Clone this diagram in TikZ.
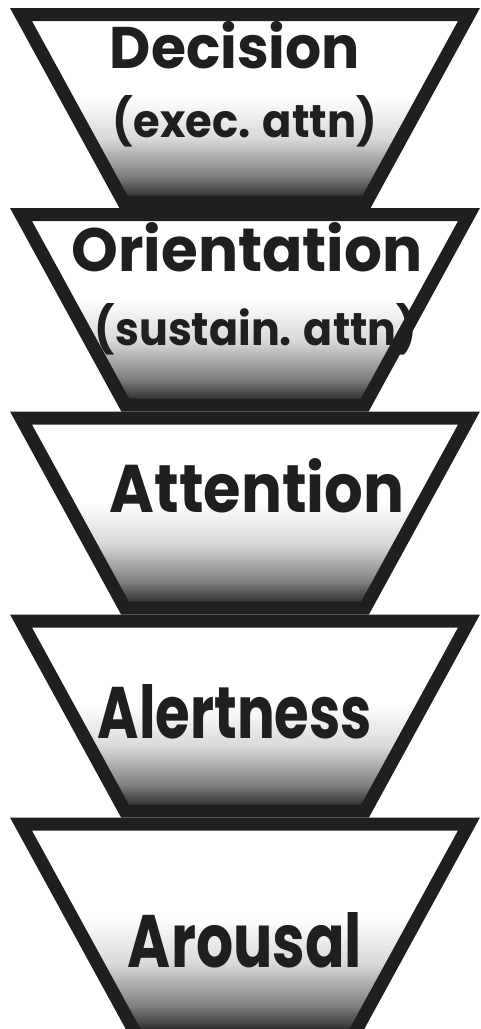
\documentclass[tikz,border=0pt]{standalone}
\usepackage{fontspec}
\setmainfont{Poppins}
\definecolor{ink}{HTML}{1F1F1F}
\pgfdeclareverticalshading{trapshade}{100bp}{color(0bp)=(black!85); color(25bp)=(black!85); color(27bp)=(black!78); color(32bp)=(black!50); color(42bp)=(black!15); color(53bp)=(white); color(100bp)=(white)}
\tikzset{
  trapfill/.style={shading=trapshade},
  trapline/.style={draw=ink, line width=13bp, line join=miter},
  lbl/.style={text=ink, inner sep=0pt, anchor=base, font=\bfseries\fontsize{60bp}{60bp}\selectfont}
}
\newcommand\fitwh[3]{\resizebox{#1bp}{#2bp}{#3}}
\begin{document}
\begin{tikzpicture}[x=1bp,y=-1bp]
\useasboundingbox (0,0) rectangle (481,1029);
\clip (0,0) rectangle (481,1029);
\foreach \t/\b in {14.5/202, 214.5/405, 418/608, 621/811, 824/1035} {
  \pgfmathsetmacro\dx{0.547*(\b-\t)}
  \shade[trapfill] (21,\t) -- (469,\t) -- (469-\dx,\b) -- (21+\dx,\b) -- cycle;
}
\node[lbl] (decision) at (235,68) {\fitwh{250}{47}{Decision}};
\node[lbl] (exec) at (245,137) {\fitwh{264}{42}{(exec. attn)}};
\node[lbl] (orient) at (247,271) {\fitwh{351}{49}{Orientation}};
\node[lbl] (sustain) at (256,345) {\fitwh{322}{42}{(sustain. attn)}};
\node[lbl] (attention) at (257,512) {\fitwh{295}{54}{Attention}};
\node[lbl] (alert) at (235,738) {\fitwh{274}{54}{Alertness}};
\node[lbl] (arousal) at (245,967) {\fitwh{234}{55}{Arousal}};
\foreach \t/\b in {14.5/202, 214.5/405, 418/608, 621/811, 824/1035} {
  \pgfmathsetmacro\dx{0.547*(\b-\t)}
  \draw[trapline] (21,\t) -- (469,\t) -- (469-\dx,\b) -- (21+\dx,\b) -- cycle;
}
\end{tikzpicture}
\end{document}
